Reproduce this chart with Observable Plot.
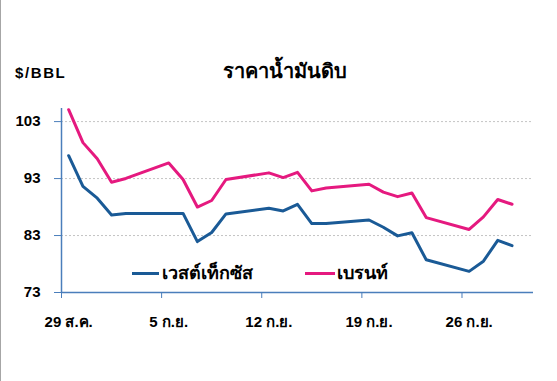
<!DOCTYPE html>
<html><head><meta charset="utf-8">
<script src="https://cdn.jsdelivr.net/npm/d3@7"></script>
<script src="https://cdn.jsdelivr.net/npm/@observablehq/plot@0.6"></script>
<style>
html,body{margin:0;padding:0;background:#fff;}
#wrap{position:relative;width:557px;height:381px;overflow:hidden;font-family:"Liberation Sans",Arial,sans-serif;}
#wrap::before{content:"";position:absolute;left:0;top:0;bottom:0;width:1px;background:#a6a6a6;z-index:2}
.t{position:absolute;white-space:nowrap;color:#000;font-weight:bold;line-height:1;}
.sw{position:absolute;height:3px;}
</style></head><body><div id="wrap"></div>
<script>
const dates = ["2022-08-29","2022-08-30","2022-08-31","2022-09-01","2022-09-02","2022-09-05","2022-09-06","2022-09-07","2022-09-08","2022-09-09","2022-09-12","2022-09-13","2022-09-14","2022-09-15","2022-09-16","2022-09-19","2022-09-20","2022-09-21","2022-09-22","2022-09-23","2022-09-26","2022-09-27","2022-09-28","2022-09-29"];
const wti   = [97.01,91.64,89.55,86.61,86.87,null,86.88,81.94,83.54,86.79,87.78,87.31,88.48,85.10,85.11,85.73,84.45,82.94,83.49,78.74,76.71,78.50,82.15,81.23];
const brent = [105.09,99.31,96.49,92.36,93.02,95.74,92.83,88.00,89.15,92.84,94.00,93.17,94.10,90.84,91.35,92.00,90.62,89.83,90.46,86.15,84.06,86.27,89.32,88.49];
const seriesNames = ["เวสต์เท็กซัส","เบรนท์"];
const seriesColors = ["#1a5a96","#e5197f"];
const yTicks = [73,83,93,103];
const xTickDates = ["2022-08-29","2022-09-05","2022-09-12","2022-09-19","2022-09-26"];
const xTickLabels = ["29 ส.ค.","5 ก.ย.","12 ก.ย.","19 ก.ย.","26 ก.ย."];
const xDomain = ["2022-08-29","2022-10-01"];
const yDomain = [73,105.3];
const titleText = "ราคาน้ำมันดิบ";
const unitText = "$/BBL";

const parse = d3.utcParse("%Y-%m-%d");
const noon = d => d3.utcHour.offset(d, 12);
const axisColor = "#4a7ebb";
const rows = [];
dates.forEach((d, i) => {
  [wti[i], brent[i]].forEach((v, k) => {
    if (v != null) rows.push({date: parse(d), value: v, series: seriesNames[k]});
  });
});
const tickRows = xTickDates.map((d, i) => ({date: parse(d), label: xTickLabels[i]}));
const xd = xDomain.map(parse);

const chart = Plot.plot({
  width: 557, height: 381,
  marginLeft: 61, marginRight: 24, marginTop: 108, marginBottom: 89,
  style: {fontFamily: '"Liberation Sans", Arial, sans-serif', fontSize: "15px", fontWeight: "bold", color: "#000", background: "transparent"},
  x: {type: "utc", domain: xd},
  y: {domain: yDomain},
  color: {domain: seriesNames, range: seriesColors},
  marks: [
    Plot.gridY(yTicks.slice(1), {stroke: "#c4c4c4", strokeOpacity: 1, strokeDasharray: "2,2"}),
    Plot.line(rows, {x: d => noon(d.date), y: "value", z: "series", stroke: "series", strokeWidth: 3, strokeLinejoin: "round"}),
    Plot.ruleX([xd[0]], {stroke: axisColor, strokeWidth: 1.5}),
    Plot.ruleY([yDomain[0]], {stroke: axisColor, strokeWidth: 1.5}),
    Plot.axisY(yTicks, {tickSize: 7, tickPadding: 14, stroke: axisColor, fill: "#000", label: null, fontSize: 15}),
    Plot.axisX(tickRows.map(d => d.date), {tickSize: 6, stroke: axisColor, tickFormat: () => "", label: null}),
    Plot.text(tickRows, {x: d => noon(d.date), frameAnchor: "bottom", text: "label", dy: 30, lineAnchor: "middle", textAnchor: "middle", fill: "#000", fontSize: 15, fontWeight: "bold"})
  ]
});
const wrap = document.getElementById("wrap");
wrap.appendChild(chart);
chart.style.position = "absolute"; chart.style.left = "0"; chart.style.top = "0";

function addText(txt, left, top, size, extra) {
  const el = document.createElement("div");
  el.className = "t"; el.textContent = txt;
  el.style.left = left + "px"; el.style.top = top + "px"; el.style.fontSize = size + "px";
  if (extra) Object.assign(el.style, extra);
  wrap.appendChild(el); return el;
}
addText(unitText, 15, 65, 15, {letterSpacing: "1.6px"});
addText(titleText, 6, 61, 20, {width: "557px", textAlign: "center"});
function addSwatch(color, left, top, width) {
  const s = document.createElement("div");
  s.className = "sw"; s.style.background = color;
  s.style.left = left + "px"; s.style.top = top + "px"; s.style.width = width + "px";
  wrap.appendChild(s);
}
addSwatch(seriesColors[0], 132, 272, 27);
addText(seriesNames[0], 162, 264, 18);
addSwatch(seriesColors[1], 305, 272, 30);
addText(seriesNames[1], 337, 264, 18);
</script></body></html>
